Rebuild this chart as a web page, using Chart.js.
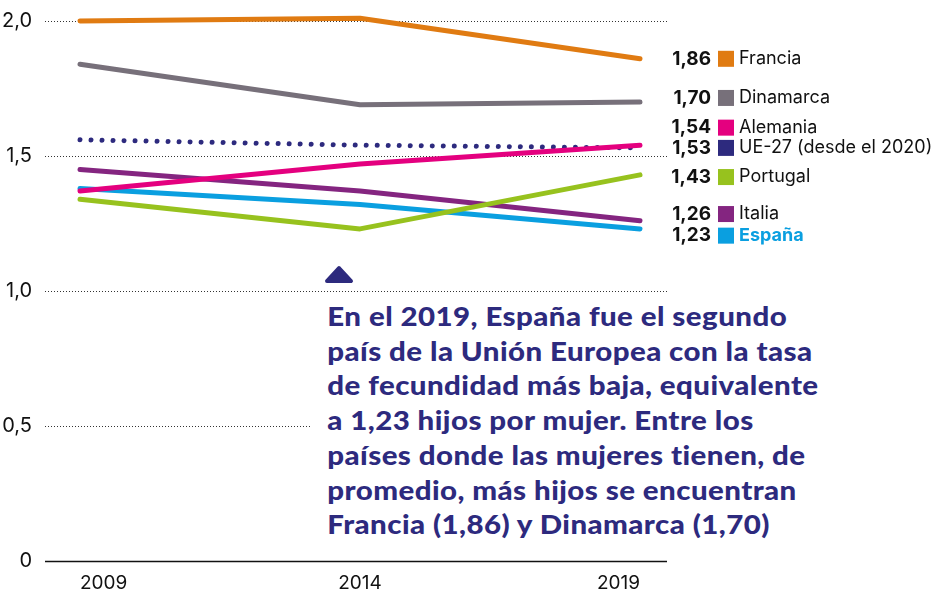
<!DOCTYPE html>
<html>
<head>
<meta charset="utf-8">
<script src="https://cdn.jsdelivr.net/npm/chart.js@4.4.1/dist/chart.umd.min.js"></script>
<style>
  html, body { margin: 0; padding: 0; background: #fff; }
  #wrap { position: relative; width: 937px; height: 591px; overflow: hidden; }
  #chart { position: absolute; left: 0; top: 0; }
  #nota {
    position: absolute; left: 312px; top: 299px;
    padding: 0 10px 0 14px; background: #fff;
    font-family: Lato, sans-serif; font-weight: 900; font-size: 27px;
    line-height: 34.7px; color: #2d2a7e; white-space: nowrap;
    letter-spacing: 0.4px; transform-origin: 0 0;
  }
  #flecha { position: absolute; left: 324px; top: 264px; }
</style>
</head>
<body>
<div id="wrap">
  <canvas id="chart" width="937" height="591"></canvas>
  <svg id="flecha" width="30" height="20"><polygon points="3,17 15,4 27,17" fill="#2d2a7e" stroke="#2d2a7e" stroke-width="4" stroke-linejoin="round"/></svg>
  <div id="nota"><span id="l1">En el 2019, España fue el segundo</span><br>país de la Unión Europea con la tasa<br>de fecundidad más baja, equivalente<br>a 1,23 hijos por mujer. Entre los<br>países donde las mujeres tienen, de<br>promedio, más hijos se encuentran<br>Francia (1,86) y Dinamarca (1,70)</div>
</div>
<script>
// --- datos (tasa de fecundidad, hijos por mujer) ---
const years = [2009, 2014, 2019];
const yTicks = [0, 0.5, 1.0, 1.5, 2.0];

const francia   = [2.00, 2.01, 1.86];
const dinamarca = [1.84, 1.69, 1.70];
const alemania  = [1.37, 1.47, 1.54];
const ue27      = [1.56, 1.54, 1.53];
const portugal  = [1.34, 1.23, 1.43];
const italia    = [1.45, 1.37, 1.26];
const espana    = [1.38, 1.32, 1.23];

const names  = ['Francia', 'Dinamarca', 'Alemania', 'UE-27 (desde el 2020)', 'Portugal', 'Italia', 'España'];
const series = [francia, dinamarca, alemania, ue27, portugal, italia, espana];
const colors = ['#e07b12', '#77707a', '#e4007f', '#2d2a7e', '#97c21e', '#842580', '#0a9fe0'];

// posición vertical de las etiquetas de la derecha (en unidades del eje, para que no se pisen)
const labelSpots = [1.86, 1.715, 1.605, 1.53, 1.422, 1.285, 1.205];

// ensanchar la nota para que la primera línea mida ~460px como en el original
const nota = document.getElementById('nota');
const l1 = document.getElementById('l1');
const w = l1.getBoundingClientRect().width;
nota.style.transform = 'scaleX(' + (460 / w).toFixed(3) + ')';

const datasets = series.map((arr, i) => ({
  label: names[i],
  data: years.map((x, k) => ({ x: x, y: arr[k] })),
  borderColor: colors[i],
  borderWidth: 5,
  borderCapStyle: 'round',
  borderJoinStyle: 'round',
  borderDash: i === 3 ? [0.01, 11] : [],
  pointRadius: 0,
  tension: 0,
  clip: false,
  order: i === 3 ? 10 : i
}));

// líneas punteadas de fondo y base
const gridPlugin = {
  id: 'grid',
  beforeDatasetsDraw(chart) {
    const { ctx, chartArea, scales } = chart;
    ctx.save();
    yTicks.forEach(t => {
      const y = Math.round(scales.y.getPixelForValue(t)) + 0.5;
      ctx.beginPath();
      if (t === 0) {
        ctx.setLineDash([]);
        ctx.lineWidth = 1.5;
        ctx.strokeStyle = '#111';
      } else {
        ctx.setLineDash([1, 2]);
        ctx.lineWidth = 1;
        ctx.strokeStyle = '#333';
      }
      ctx.moveTo(chartArea.left, y);
      ctx.lineTo(chartArea.right, y);
      ctx.stroke();
    });
    ctx.restore();
  }
};

// etiquetas finales: valor, cuadrado de color y nombre
const endLabels = {
  id: 'endLabels',
  afterDatasetsDraw(chart) {
    const { ctx, scales } = chart;
    ctx.save();
    ctx.textBaseline = 'middle';
    series.forEach((arr, i) => {
      const y = scales.y.getPixelForValue(labelSpots[i]);
      const last = arr[arr.length - 1];
      ctx.fillStyle = '#111';
      ctx.font = '700 19px Inter, sans-serif';
      ctx.textAlign = 'right';
      ctx.fillText(last.toFixed(2).replace('.', ','), 711, y);
      ctx.fillStyle = colors[i];
      ctx.fillRect(718, y - 8, 16, 16);
      ctx.textAlign = 'left';
      if (i === 6) {
        ctx.font = '700 18px Inter, sans-serif';
        ctx.fillStyle = colors[i];
      } else {
        ctx.font = '400 18px Inter, sans-serif';
        ctx.fillStyle = '#111';
      }
      ctx.fillText(names[i], 739, y);
    });
    ctx.restore();
  }
};

new Chart(document.getElementById('chart'), {
  type: 'line',
  data: { datasets: datasets },
  plugins: [gridPlugin, endLabels],
  options: {
    responsive: false,
    animation: false,
    layout: { padding: { top: 21, right: 270, left: 0, bottom: 0 } },
    plugins: { legend: { display: false }, tooltip: { enabled: false } },
    scales: {
      x: {
        type: 'linear',
        min: 2009 - 35 / 56,
        max: 2019 + 27 / 56,
        afterBuildTicks: s => { s.ticks = years.map(v => ({ value: v })); },
        afterFit: s => { s.height = 30; },
        grid: { display: false },
        border: { display: false },
        ticks: {
          align: 'inner',
          padding: 3,
          color: '#111',
          font: { family: 'Inter', size: 19 },
          callback: v => String(v)
        }
      },
      y: {
        min: 0,
        max: 2.0,
        afterBuildTicks: s => { s.ticks = yTicks.map(v => ({ value: v })); },
        afterFit: s => { s.width = 45; },
        grid: { display: false },
        border: { display: false },
        ticks: {
          padding: 5,
          color: '#111',
          font: { family: 'Inter', size: 20 },
          callback: v => v === 0 ? '0' : v.toFixed(1).replace('.', ',')
        }
      }
    }
  }
});
</script>
</body>
</html>
